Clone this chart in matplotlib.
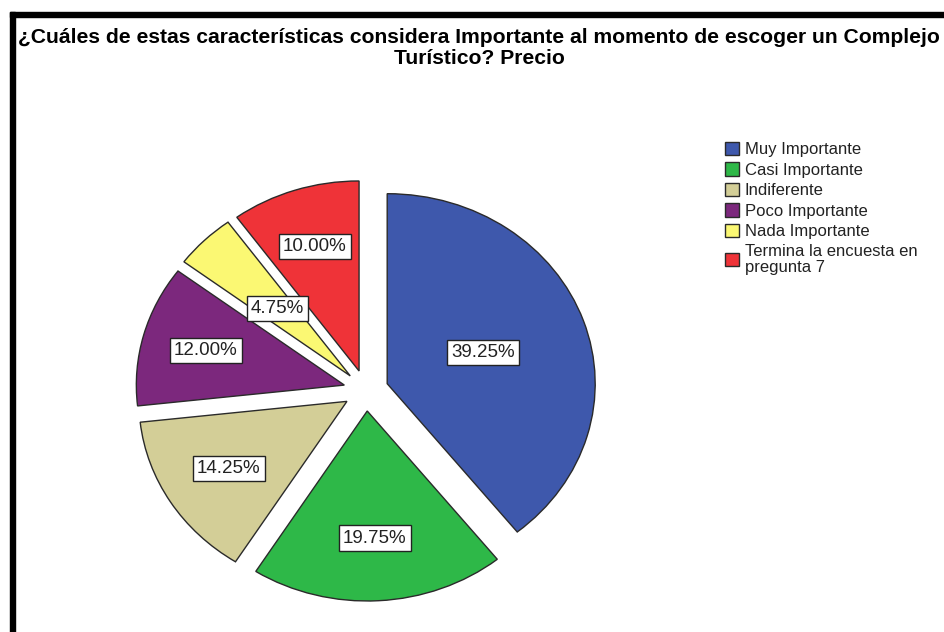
import numpy as np
import matplotlib
matplotlib.use('Agg')
import matplotlib.pyplot as plt
from matplotlib.patches import Rectangle

# Encuesta: importancia del precio
categorias = ['Muy Importante', 'Casi Importante', 'Indiferente',
              'Poco Importante', 'Nada Importante',
              'Termina la encuesta en\npregunta 7']
porcentajes = [39.25, 19.75, 14.25, 12.00, 4.75, 10.00]
colores = ['#3E58AC', '#2EB848', '#D3CE97', '#7C287D', '#FBF873', '#EF3338']
titulo = ('¿Cuáles de estas características considera Importante al momento de escoger un Complejo\n'
          'Turístico? Precio')

# distancia de cada etiqueta al centro de su porción
dist_etiqueta = [0.49, 0.67, 0.67, 0.69, 0.50, 0.69]

W, H = 944, 632
fig = plt.figure(figsize=(W / 100, H / 100), dpi=100)
fig.patch.set_facecolor('white')

# ejes en pixeles: centro (366, 390.5), radio 208 x 190
cx, cy, rx, ry = 366, 390.5, 208, 190
ax = fig.add_axes([(cx - 1.25 * rx) / W, (H - cy - 1.25 * ry) / H,
                   2.5 * rx / W, 2.5 * ry / H])

explode = [0.108] * len(porcentajes)
wedges, _ = ax.pie(porcentajes, colors=colores, startangle=90, counterclock=False,
                   explode=explode,
                   wedgeprops=dict(edgecolor='#2a2a2a', linewidth=1.0))
ax.set_aspect('auto')
ax.set_xlim(-1.25, 1.25)
ax.set_ylim(-1.25, 1.25)

for w, v, d, e in zip(wedges, porcentajes, dist_etiqueta, explode):
    ang = np.deg2rad((w.theta1 + w.theta2) / 2)
    x = (e + d) * np.cos(ang)
    y = (e + d) * np.sin(ang)
    ax.text(x, y, f'{v:.2f}%', ha='center', va='center', fontsize=13.5,
            family='Liberation Sans', color='#222222',
            bbox=dict(boxstyle='square,pad=0.22', facecolor='white',
                      edgecolor='#222222', linewidth=1.0))

leg = fig.legend(wedges, categorias, loc='upper left',
                 bbox_to_anchor=(725 / W, 1 - 142 / H), frameon=False,
                 prop={'family': 'Liberation Sans', 'size': 12},
                 handlelength=0.85, handleheight=0.85, handletextpad=0.35,
                 labelspacing=0.3, borderpad=0, borderaxespad=0)
for t in leg.get_texts():
    t.set_linespacing(1.08)
    t.set_color('#222222')

fig.text(479 / W, 1 - 48 / H, titulo, ha='center', va='center',
         fontsize=15.2, fontweight='bold', family='Liberation Sans',
         linespacing=1.12)

# marco negro superior e izquierdo
fig.patches.append(Rectangle((10 / W, 1 - 17 / H), (W - 10) / W, 5 / H,
                             transform=fig.transFigure, color='black'))
fig.patches.append(Rectangle((10 / W, 0), 5 / W, 1 - 12 / H,
                             transform=fig.transFigure, color='black'))

fig.savefig('out.png', dpi=100)
